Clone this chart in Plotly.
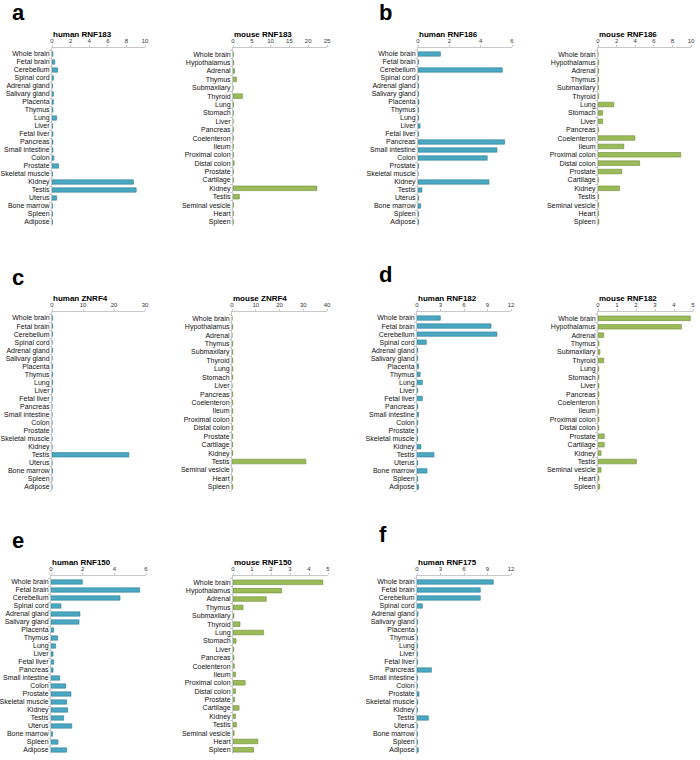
import plotly.graph_objects as go

human_tissues = ["Whole brain", "Fetal brain", "Cerebellum", "Spinal cord", "Adrenal gland",
                 "Salivary gland", "Placenta", "Thymus", "Lung", "Liver", "Fetal liver",
                 "Pancreas", "Small intestine", "Colon", "Prostate", "Skeletal muscle",
                 "Kidney", "Testis", "Uterus", "Bone marrow", "Spleen", "Adipose"]
mouse_tissues = ["Whole brain", "Hypothalamus", "Adrenal", "Thymus", "Submaxilary", "Thyroid",
                 "Lung", "Stomach", "Liver", "Pancreas", "Coelenteron", "Ileum",
                 "Proximal colon", "Distal colon", "Prostate", "Cartilage", "Kidney", "Testis",
                 "Seminal vesicle", "Heart", "Spleen"]

human_RNF183 = [0.1, 0.3, 0.6, 0.15, 0.05, 0.15, 0.15, 0.1, 0.5, 0.05, 0.1, 0.1, 0.1, 0.2,
                0.7, 0.05, 8.75, 9.05, 0.5, 0.05, 0.05, 0.05]
mouse_RNF183 = [0.1, 0.2, 0.4, 0.9, 0.0, 2.5, 0.15, 0.1, 0.0, 0.1, 0.1, 0.1, 0.1, 0.3, 0.1,
                0.1, 22.3, 1.7, 0.1, 0.1, 0.1]
human_RNF186 = [1.43, 0.04, 5.38, 0.04, 0.04, 0.04, 0.06, 0.04, 0.04, 0.13, 0.04, 5.53, 5.04,
                4.42, 0.04, 0.0, 4.53, 0.25, 0.04, 0.17, 0.04, 0.04]
mouse_RNF186 = [0.0, 0.07, 0.07, 0.07, 0.07, 0.07, 1.7, 0.5, 0.5, 0.05, 3.97, 2.78, 8.9, 4.48,
                2.56, 0.04, 2.31, 0.07, 0.07, 0.07, 0.1]
human_ZNRF4 = [0.2, 0.2, 0.2, 0.0, 0.2, 0.0, 0.2, 0.2, 0.2, 0.2, 0.0, 0.0, 0.0, 0.0, 0.0, 0.0,
               0.0, 24.8, 0.0, 0.2, 0.0, 0.0]
mouse_ZNRF4 = [0.0, 0.3, 0.0, 0.3, 0.3, 0.3, 0.3, 0.3, 0.0, 0.3, 0.3, 0.3, 0.3, 0.3, 0.3, 0.3,
               0.3, 31.1, 0.0, 0.3, 0.3]
human_RNF182 = [2.98, 9.45, 10.2, 1.19, 0.1, 0.1, 0.2, 0.4, 0.68, 0.1, 0.68, 0.1, 0.2, 0.1,
                0.1, 0.1, 0.5, 2.17, 0.1, 1.28, 0.1, 0.2]
mouse_RNF182 = [4.86, 4.39, 0.3, 0.05, 0.1, 0.3, 0.04, 0.05, 0.05, 0.05, 0.05, 0.04, 0.05,
                0.04, 0.33, 0.33, 0.16, 2.02, 0.16, 0.05, 0.09]
human_RNF150 = [1.98, 5.6, 4.36, 0.63, 1.83, 1.77, 0.17, 0.42, 0.29, 0.13, 0.17, 0.13, 0.55,
                0.93, 1.26, 0.99, 1.05, 0.8, 1.31, 0.1, 0.44, 0.99]
mouse_RNF150 = [4.73, 2.56, 1.75, 0.53, 0.05, 0.37, 1.61, 0.16, 0.04, 0.05, 0.07, 0.13, 0.64,
                0.13, 0.08, 0.32, 0.13, 0.18, 0.06, 1.31, 1.08]
human_RNF175 = [9.74, 8.08, 8.08, 0.68, 0.13, 0.08, 0.05, 0.08, 0.08, 0.08, 0.08, 1.84, 0.08,
                0.05, 0.26, 0.08, 0.05, 1.45, 0.05, 0.05, 0.05, 0.17]

W, H = 700, 760
BLUE, BLUE_LINE = "#4aa8c2", "#2f7d93"
GREEN, GREEN_LINE = "#9bbb59", "#6f8c3a"
FONT = "Liberation Sans, Arial, sans-serif"

# (title, categories, values, x-range max, dtick, x px [l, r], y px [top, bottom], human?)
panels = [
    ("human RNF183", human_tissues, human_RNF183, 10, 2, (52, 145), (48, 226), True),
    ("mouse RNF183", mouse_tissues, mouse_RNF183, 25, 5, (233, 327), (48, 226), False),
    ("human RNF186", human_tissues, human_RNF186, 6, 2, (418, 512), (48, 226), True),
    ("mouse RNF186", mouse_tissues, mouse_RNF186, 10, 2, (598, 691), (48, 226), False),
    ("human ZNRF4", human_tissues, human_ZNRF4, 30, 10, (52, 145), (312, 491), True),
    ("mouse ZNRF4", mouse_tissues, mouse_ZNRF4, 40, 10, (232, 327), (312, 491), False),
    ("human RNF182", human_tissues, human_RNF182, 12, 3, (417, 511), (312, 491), True),
    ("mouse RNF182", mouse_tissues, mouse_RNF182, 5, 1, (598, 693), (312, 491), False),
    ("human RNF150", human_tissues, human_RNF150, 6, 2, (51, 146), (576, 754), True),
    ("mouse RNF150", mouse_tissues, mouse_RNF150, 5, 1, (233, 328), (576, 754), False),
    ("human RNF175", human_tissues, human_RNF175, 12, 3, (417, 511), (576, 754), True),
]

fig = go.Figure()
layout = {}
annotations = []
for i, (title, cats, vals, xmax, dt, xp, yp, human) in enumerate(panels):
    k = "" if i == 0 else str(i + 1)
    fig.add_trace(go.Bar(
        x=vals, y=cats, orientation="h", width=0.55,
        marker=dict(color=BLUE if human else GREEN,
                    line=dict(color=BLUE_LINE if human else GREEN_LINE, width=0.6)),
        xaxis="x" + k, yaxis="y" + k, showlegend=False,
    ))
    n = len(cats)
    layout["xaxis" + k] = dict(
        domain=[xp[0] / W, xp[1] / W], range=[0, xmax], dtick=dt, tick0=0,
        side="top", anchor="y" + k, showgrid=False, zeroline=False,
        showline=True, linecolor="#c8c8c8", linewidth=1,
        ticks="outside", ticklen=2, tickcolor="#c8c8c8",
        tickfont=dict(size=6, color="#333", family=FONT), fixedrange=True,
        automargin=False,
    )
    layout["yaxis" + k] = dict(
        domain=[1 - yp[1] / H, 1 - yp[0] / H], range=[n - 0.5, -0.75],
        type="category", categoryorder="array", categoryarray=cats,
        tickmode="array", tickvals=cats, ticktext=cats,
        anchor="x" + k, showgrid=False, zeroline=False,
        showline=True, linecolor="#c8c8c8", linewidth=1,
        ticks="outside", ticklen=2, tickcolor="#c8c8c8", tickson="boundaries",
        tickfont=dict(size=7, color="#111", family=FONT), fixedrange=True,
        automargin=False,
    )
    annotations.append(dict(
        text="<b>" + title + "</b>", x=(xp[0] - 1) / W, y=1 - (yp[0] - 14) / H,
        xref="paper", yref="paper", xanchor="left", yanchor="middle", showarrow=False,
        font=dict(size=8, color="#000", family=FONT),
    ))

letters = [("a", 18, 12), ("b", 385, 12), ("c", 18, 277), ("d", 385, 274),
           ("e", 18, 540), ("f", 383, 534)]
for t, x, y in letters:
    annotations.append(dict(
        text="<b>" + t + "</b>", x=x / W, y=1 - y / H, xref="paper", yref="paper",
        xanchor="center", yanchor="middle", showarrow=False,
        font=dict(size=22, color="#000", family=FONT),
    ))

fig.update_layout(
    width=W, height=H, margin=dict(l=0, r=0, t=0, b=0),
    paper_bgcolor="white", plot_bgcolor="white",
    annotations=annotations, bargap=0.45, **layout,
)
fig.write_html("out.html", config={"displayModeBar": False},
               post_script="document.body.style.margin='0';document.body.style.padding='0';")
